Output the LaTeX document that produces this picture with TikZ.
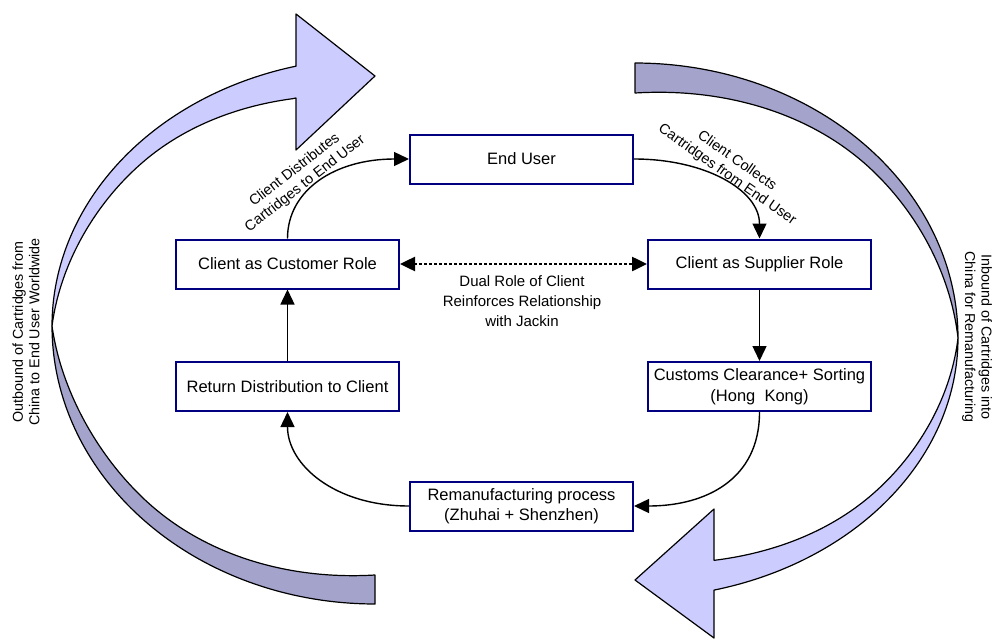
\documentclass[tikz,border=0pt]{standalone}
\usepackage{fontspec}
\setmainfont{Liberation Sans}
\usetikzlibrary{arrows.meta}
\definecolor{lav}{RGB}{204,204,255}
\definecolor{lavdark}{RGB}{163,163,204}
\definecolor{navy}{RGB}{0,0,128}
\begin{document}
\begin{tikzpicture}[x=1pt,y=-1pt,
  box/.style={draw=navy,line width=2pt,fill=white,minimum width=223pt,minimum height=49pt,inner sep=0pt,align=center,font=\fontsize{16.5}{20.5}\selectfont},
  conn/.style={line width=1.4pt,-{Triangle[length=15pt,width=14pt]}},
  lbl/.style={align=center,font=\fontsize{14.5}{17}\selectfont,inner sep=0pt},
  sidelbl/.style={align=center,font=\fontsize{14.3}{16.5}\selectfont,inner sep=0pt},
  ribbon/.style={draw=black,line width=1.2pt,line join=round}]
\useasboundingbox (0,0) rectangle (1000,642);
% left ribbon (outbound)
\filldraw[ribbon,fill=lav] (296,14) -- (375,76) -- (296,150) -- (296,98)
  -- plot[domain=254.4:180,samples=80] ({375+(323-16*sin(min(2.2*(\x-180),90)))*cos(\x)},{326+(268-32*(\x-180)/74.4)*sin(\x)})
  -- plot[domain=180:255.84,samples=80] ({375+323*cos(\x)},{326+268*sin(\x)}) -- cycle;
\filldraw[ribbon,fill=lavdark] plot[domain=180:90,samples=80] ({375+323*cos(\x)},{326+278*sin(\x)})
  -- (375,575)
  -- plot[domain=90:180,samples=80] ({375+(323-18*sin(min(2.2*(180-\x),90)))*cos(\x)},{326+(278-29*(180-\x)/90)*sin(\x)}) -- cycle;
% right ribbon (inbound)
\filldraw[ribbon,fill=lavdark] plot[domain=270:360,samples=80] ({635+323*cos(\x)},{338+275*sin(\x)})
  -- plot[domain=360:270,samples=80] ({635+(323-14*sin(min(2.2*(360-\x),90)))*cos(\x)},{338+(275-30*(360-\x)/90)*sin(\x)}) -- cycle;
\filldraw[ribbon,fill=lav] plot[domain=0:75.84,samples=80] ({635+323*cos(\x)},{338+260*sin(\x)})
  -- (714,638) -- (635,580) -- (714,509) -- (714,560)
  -- plot[domain=75.16:0,samples=80] ({635+(323-14*sin(min(2.2*\x,90)))*cos(\x)},{338+(260-30*\x/75.16)*sin(\x)}) -- cycle;
% boxes
\node[box] (eu) at (521.5,159) {End User};
\node[box] (cust) at (287.5,264) {Client as Customer Role};
\node[box] (ret) at (287.5,386.5) {Return Distribution to Client};
\node[box] (sup) at (759.5,264) {Client as Supplier Role};
\node[box] (cc) at (759.5,386.5) {Customs Clearance+ Sorting\\(Hong\ \ Kong)};
\node[box] (rem) at (521.5,506) {Remanufacturing process\\(Zhuhai + Shenzhen)};
% connectors
\draw[conn] (cust.north) .. controls (287.5,190) and (335,159) .. (eu.west);
\draw[conn] (eu.east) .. controls (705,159) and (759.5,190) .. (sup.north);
\draw[conn] (sup.south) -- (cc.north);
\draw[conn] (cc.south) .. controls (759.5,480) and (705,506) .. (rem.east);
\draw[conn] (rem.west) .. controls (335,506) and (287.5,465) .. (ret.south);
\draw[conn] (ret.north) -- (cust.south);
\draw[line width=2.5pt,dash pattern=on 2.5pt off 2.5pt,{Triangle[length=15pt,width=14pt]}-{Triangle[length=15pt,width=14pt]}] (cust.east) -- (sup.west);
% labels
\node[lbl,rotate=38] (ld) at (300,177) {Client Distributes\\Cartridges to End User};
\node[lbl,rotate=-35] (lc) at (732,168) {Client Collects\\Cartridges from End User};
\node[lbl,font=\fontsize{15}{20}\selectfont] (dual) at (522,301) {Dual Role of Client\\Reinforces Relationship\\with Jackin};
\node[sidelbl,rotate=90] (outl) at (26,332) {Outbound of Cartridges from\\China to End User Worldwide};
\node[sidelbl,rotate=-90] (inl) at (977,337) {Inbound of Cartridges into\\China for Remanufacturing};
\end{tikzpicture}
\end{document}
